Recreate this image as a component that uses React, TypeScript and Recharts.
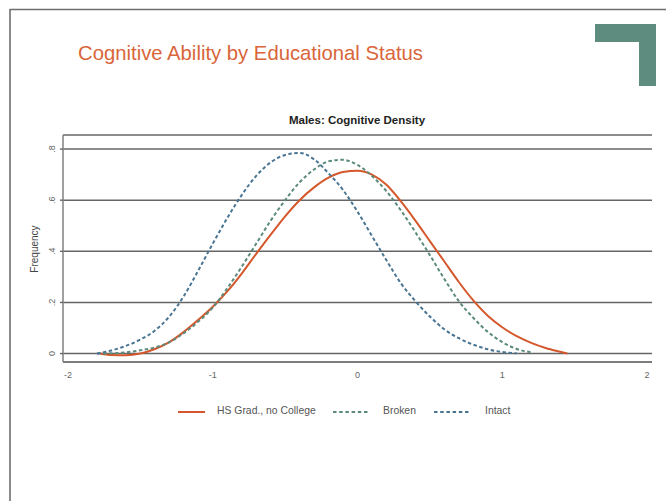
import React from "react";
import { LineChart, Line, XAxis, YAxis, CartesianGrid, Legend } from "recharts";

const seriesNames = ["HS Grad., no College", "Broken", "Intact"];
const xTicks = [-2, -1, 0, 1, 2];
const yTicks = [0, 0.2, 0.4, 0.6, 0.8];
const yTickLabels = ["0", ".2", ".4", ".6", ".8"];

const hsX = [-1.78, -1.7, -1.6, -1.5, -1.4, -1.3, -1.2, -1.1, -1.0, -0.9, -0.8, -0.7, -0.6, -0.5, -0.4, -0.3, -0.2, -0.1, 0.0, 0.1, 0.2, 0.3, 0.4, 0.5, 0.6, 0.7, 0.8, 0.9, 1.0, 1.1, 1.2, 1.3, 1.4, 1.45];
const hsY = [0, -0.006, -0.007, 0.0, 0.018, 0.045, 0.085, 0.132, 0.183, 0.243, 0.313, 0.39, 0.465, 0.537, 0.6, 0.65, 0.688, 0.71, 0.715, 0.7, 0.66, 0.595, 0.52, 0.44, 0.36, 0.28, 0.208, 0.148, 0.103, 0.068, 0.042, 0.022, 0.007, 0];

const brokenX = [-1.8, -1.7, -1.6, -1.5, -1.4, -1.3, -1.2, -1.1, -1.0, -0.9, -0.8, -0.7, -0.6, -0.5, -0.4, -0.3, -0.2, -0.1, 0.0, 0.1, 0.2, 0.3, 0.4, 0.5, 0.6, 0.7, 0.8, 0.9, 1.0, 1.1, 1.2];
const brokenY = [0, 0.001, 0.005, 0.013, 0.024, 0.045, 0.08, 0.125, 0.18, 0.255, 0.34, 0.43, 0.52, 0.6, 0.67, 0.72, 0.752, 0.758, 0.738, 0.695, 0.635, 0.56, 0.475, 0.385, 0.292, 0.205, 0.14, 0.085, 0.045, 0.018, 0.005];

const intactX = [-1.8, -1.7, -1.6, -1.5, -1.4, -1.3, -1.2, -1.1, -1.0, -0.9, -0.8, -0.7, -0.6, -0.5, -0.4, -0.3, -0.2, -0.1, 0.0, 0.1, 0.2, 0.3, 0.4, 0.5, 0.6, 0.7, 0.8, 0.9, 1.0, 1.1];
const intactY = [0, 0.012, 0.03, 0.055, 0.09, 0.145, 0.225, 0.325, 0.43, 0.53, 0.62, 0.695, 0.748, 0.777, 0.785, 0.76, 0.705, 0.64, 0.555, 0.46, 0.365, 0.275, 0.205, 0.145, 0.095, 0.06, 0.035, 0.017, 0.006, 0.001];

const toData = (xs: number[], ys: number[]) => xs.map((x, i) => ({ x, y: ys[i] }));

const RED = "#d4582c";
const GREEN = "#5c8b7c";
const BLUE = "#4a7592";
const COLORS = [RED, GREEN, BLUE];
const FONT = "'Liberation Sans', Arial, sans-serif";

const XTick = (props: any) => {
  const { x, y, payload } = props;
  return (
    <text x={x} y={y + 16} textAnchor="middle" fontSize={9} fill="#666" fontFamily={FONT}>
      {payload.value}
    </text>
  );
};

const YTick = (props: any) => {
  const { x, y, payload } = props;
  const idx = yTicks.indexOf(payload.value);
  return (
    <text
      transform={`translate(${x - 8},${y}) rotate(-90)`}
      textAnchor="middle"
      dy="0.35em"
      fontSize={9}
      fill="#666"
      fontFamily={FONT}
    >
      {idx >= 0 ? yTickLabels[idx] : payload.value}
    </text>
  );
};

const legendIconX = [0, 155, 256];
const legendIconW = [27, 37, 37];
const legendTextX = [39, 205, 307];

const LegendContent = () => {
  return (
    <div style={{ position: "relative", width: 400, height: 16, fontFamily: FONT, fontSize: 10.4, color: "#555" }}>
      {seriesNames.map((name, i) => {
        const dashed = i > 0;
        const w = legendIconW[i];
        return (
          <React.Fragment key={i}>
            <svg width={w} height={6} style={{ position: "absolute", left: legendIconX[i], top: 5 }}>
              <line x1={0} y1={3} x2={w} y2={3} stroke={COLORS[i]} strokeWidth={2} strokeDasharray={dashed ? "3.5 2.7" : undefined} />
            </svg>
            <span style={{ position: "absolute", left: legendTextX[i], top: 1, whiteSpace: "nowrap", lineHeight: "12px" }}>{name}</span>
          </React.Fragment>
        );
      })}
    </div>
  );
};

export default function App() {
  return (
    <div style={{ position: "absolute", left: 0, top: 0, width: 666, height: 501, background: "#fff", overflow: "hidden" }}>
      <svg width={666} height={501} style={{ position: "absolute", left: 0, top: 0 }}>
        <line x1={10} y1={9.5} x2={666} y2={9.5} stroke="#6e6e6e" strokeWidth={1.6} />
        <line x1={10} y1={9} x2={10} y2={501} stroke="#6e6e6e" strokeWidth={1.6} />
        <path d="M595,24 L656,24 L656,86 L639,86 L639,42 L595,42 Z" fill="#5e8c7f" />
        <text x={78} y={60} fontSize={20.3} fill="#d9653a" fontFamily={FONT}>
          Cognitive Ability by Educational Status
        </text>
        <text x={357} y={124} textAnchor="middle" fontSize={11.5} fontWeight="bold" fill="#222" fontFamily={FONT}>
          Males: Cognitive Density
        </text>
        <text transform="translate(34,249) rotate(-90)" textAnchor="middle" dy="0.35em" fontSize={10} fill="#444" fontFamily={FONT}>
          Frequency
        </text>
      </svg>
      <div style={{ position: "absolute", left: 0, top: 0 }}>
        <LineChart width={666} height={501} margin={{ top: 135, right: 14, bottom: 119, left: 0 }}>
          <CartesianGrid horizontal vertical={false} stroke="#666" strokeWidth={1.4} />
          <XAxis
            type="number"
            dataKey="x"
            domain={[-2.035, 2.035]}
            ticks={xTicks}
            allowDataOverflow
            height={20}
            tickLine={false}
            tickSize={0}
            tickMargin={0}
            tick={<XTick />}
            axisLine={{ stroke: "#777", strokeWidth: 1.6 }}
          />
          <YAxis
            type="number"
            domain={[-0.033, 0.855]}
            ticks={yTicks}
            allowDataOverflow
            width={63}
            tickSize={3}
            tickMargin={0}
            tickLine={{ stroke: "#666", strokeWidth: 1.4 }}
            tick={<YTick />}
            axisLine={{ stroke: "#888", strokeWidth: 1.6 }}
          />
          <Legend
            layout="horizontal"
            verticalAlign="middle"
            align="center"
            wrapperStyle={{ left: 178, top: 404, width: 400, height: 16 }}
            content={<LegendContent />}
          />
          <Line data={toData(hsX, hsY)} dataKey="y" name={seriesNames[0]} type="monotone" stroke={RED} strokeWidth={2} dot={false} isAnimationActive={false} />
          <Line data={toData(brokenX, brokenY)} dataKey="y" name={seriesNames[1]} type="monotone" stroke={GREEN} strokeWidth={2} strokeDasharray="3.5 2.5" dot={false} isAnimationActive={false} />
          <Line data={toData(intactX, intactY)} dataKey="y" name={seriesNames[2]} type="monotone" stroke={BLUE} strokeWidth={2} strokeDasharray="3.5 2.5" dot={false} isAnimationActive={false} />
        </LineChart>
      </div>
    </div>
  );
}
